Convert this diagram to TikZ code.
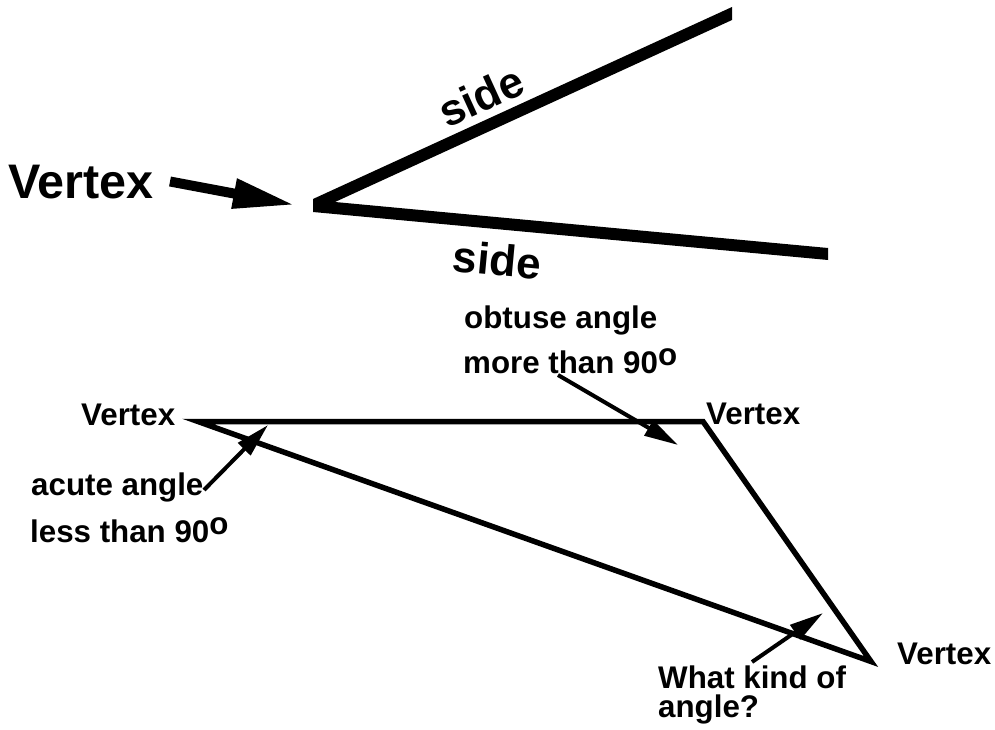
\documentclass[tikz,border=0pt]{standalone}
\usepackage{fontspec}
\setmainfont{Liberation Sans}
\usetikzlibrary{arrows.meta}
\begin{document}
\begin{tikzpicture}[x=1pt,y=-1pt,
  lbl/.style={inner sep=0pt, anchor=base west, font=\bfseries\fontsize{31.3}{36}\selectfont},
  biglbl/.style={inner sep=0pt, anchor=base west, font=\bfseries\fontsize{48.5}{56}\selectfont},
  sidelbl/.style={inner sep=0pt, font=\bfseries\fontsize{44}{52}\selectfont},
  tri/.style={line width=5.5pt, line join=miter},
  ptr/.style={line width=4pt, -{Triangle[length=34pt,width=17pt]}},
  bigptr/.style={line width=10pt, -{Triangle[length=62pt,width=28pt]}}
]
\useasboundingbox (0,0) rectangle (995,730);

% the angle with its two thick sides
\coordinate (p1) at (313,199);
\coordinate (p2) at (732,7);
\coordinate (p3) at (732,20);
\coordinate (p4) at (335,202);
\coordinate (p5) at (828,248);
\coordinate (p6) at (828,260);
\coordinate (p7) at (313,212);
\fill (p1) -- (p2) -- (p3) -- (p4) -- (p5) -- (p6) -- (p7) -- cycle;

\node[sidelbl, rotate=24.6] (s1) at (481,96) {side};
\node[sidelbl, rotate=-5.3] (s2) at (497,260) {side};

\node[biglbl] (bigV) at (8,199) {Vertex};
\coordinate (bigtail) at (170,181.5);
\coordinate (bigtip) at (295,205);
\draw[bigptr] (bigtail) -- (bigtip);

% triangle
\coordinate (A) at (198,421.5);
\coordinate (B) at (703,421.5);
\coordinate (C) at (871,661.5);
\draw[tri] (A) -- (B) -- (C) -- cycle;

\node[lbl] (vA) at (81,425) {Vertex};
\node[lbl] (vB) at (706,424) {Vertex};
\node[lbl] (vC) at (897,664) {Vertex};

\node[lbl] (ob1) at (464,328) {obtuse angle};
\node[lbl] (ob2) at (463,373) {more than 90\raisebox{8pt}{o}};
\node[lbl] (ac1) at (31,495) {acute angle};
\node[lbl] (ac2) at (30,542) {less than 90\raisebox{8pt}{o}};
\node[lbl] (wk1) at (658,688) {What kind of};
\node[lbl] (wk2) at (658,717) {angle?};

\coordinate (actail) at (204,490);
\coordinate (actip) at (268,425);
\coordinate (obtail) at (558,375);
\coordinate (obtip) at (678,445);
\coordinate (wktail) at (752,662);
\coordinate (wktip) at (823,613);
\draw[ptr] (actail) -- (actip);
\draw[ptr] (obtail) -- (obtip);
\draw[ptr] (wktail) -- (wktip);
\end{tikzpicture}
\end{document}
